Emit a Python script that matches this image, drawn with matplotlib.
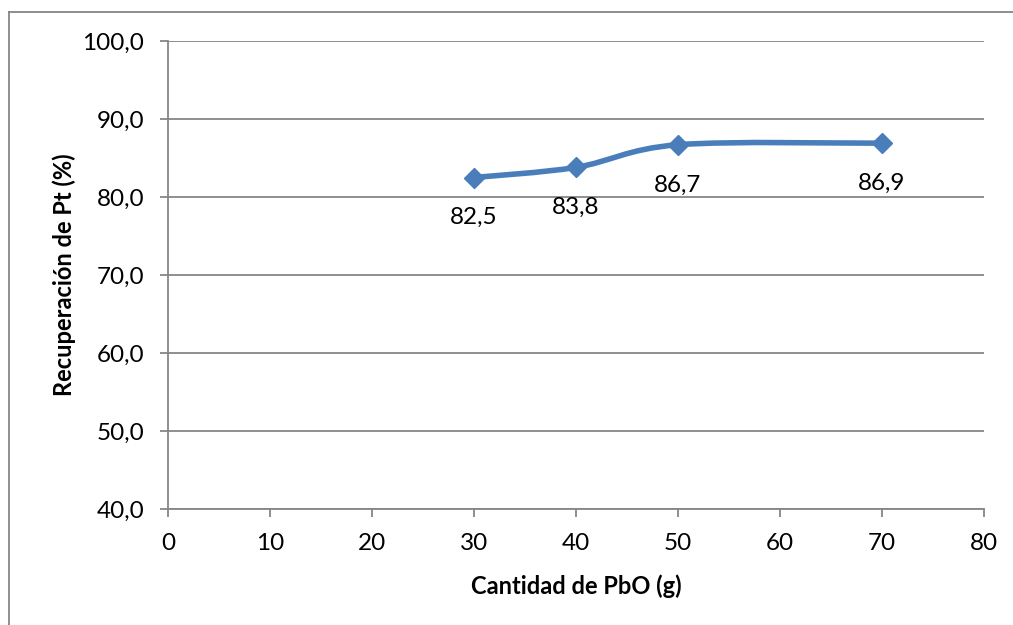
import matplotlib.pyplot as plt
from matplotlib.path import Path
from matplotlib.patches import PathPatch
from matplotlib.lines import Line2D

# data
pbo = [30, 40, 50, 70]
recuperacion = [82.5, 83.8, 86.7, 86.9]
labels = ["82,5", "83,8", "86,7", "86,9"]
yticks = [40, 50, 60, 70, 80, 90, 100]
xticks = [0, 10, 20, 30, 40, 50, 60, 70, 80]

plt.rcParams['font.family'] = ['Lato', 'DejaVu Sans']
blue = "#4A7EBB"
grey = "#868686"

fig = plt.figure(figsize=(10.13, 6.25), dpi=100)
ax = fig.add_axes([0.1658, 0.1856, 0.8056, 0.7488])

# smoothed line (excel style bezier through the points)
pts = list(zip(pbo, recuperacion))
verts = [pts[0]]
codes = [Path.MOVETO]
n = len(pts)
for i in range(n - 1):
    p0 = pts[max(i - 1, 0)]
    p1 = pts[i]
    p2 = pts[i + 1]
    p3 = pts[min(i + 2, n - 1)]
    c1 = (p1[0] + (p2[0] - p0[0]) / 6, p1[1] + (p2[1] - p0[1]) / 6)
    c2 = (p2[0] - (p3[0] - p1[0]) / 6, p2[1] - (p3[1] - p1[1]) / 6)
    verts += [c1, c2, p2]
    codes += [Path.CURVE4] * 3
ax.add_patch(PathPatch(Path(verts, codes), facecolor="none", edgecolor=blue,
                       lw=4, capstyle="round", joinstyle="round", zorder=3))
ax.plot(pbo, recuperacion, linestyle="none", marker="D", markersize=10.5,
        color=blue, zorder=4)

for x, y, t in zip(pbo, recuperacion, labels):
    ax.annotate(t, (x, y), xytext=(0, -29), textcoords="offset points",
                ha="center", va="center", fontsize=17.5)

ax.set_xlim(0, 80)
ax.set_ylim(40, 100)
ax.set_xticks(xticks)
ax.set_yticks(yticks)
ax.set_yticklabels([f"{v},0" for v in yticks])
ax.tick_params(axis="both", labelsize=17.5, color=grey, length=6, width=1.3)
ax.tick_params(axis="y", pad=11)
ax.tick_params(axis="x", pad=11)
ax.yaxis.grid(True, color=grey, linewidth=1.3)
ax.set_axisbelow(True)
for s in ["top", "right"]:
    ax.spines[s].set_visible(False)
for s in ["left", "bottom"]:
    ax.spines[s].set_color(grey)
    ax.spines[s].set_linewidth(1.3)
ax.set_xlabel("Cantidad de PbO (g)", fontsize=17, fontweight="bold", labelpad=15)
ax.set_ylabel("Recuperación de Pt (%)", fontsize=17, fontweight="bold", labelpad=5)

# chart border (only top and left visible in the reference)
fig.add_artist(Line2D([8.5 / 1013, 1], [1 - 11.5 / 625] * 2, color=grey, lw=1.3))
fig.add_artist(Line2D([8.5 / 1013] * 2, [0, 1 - 11.5 / 625], color=grey, lw=1.3))

fig.savefig("out.png", dpi=100)
